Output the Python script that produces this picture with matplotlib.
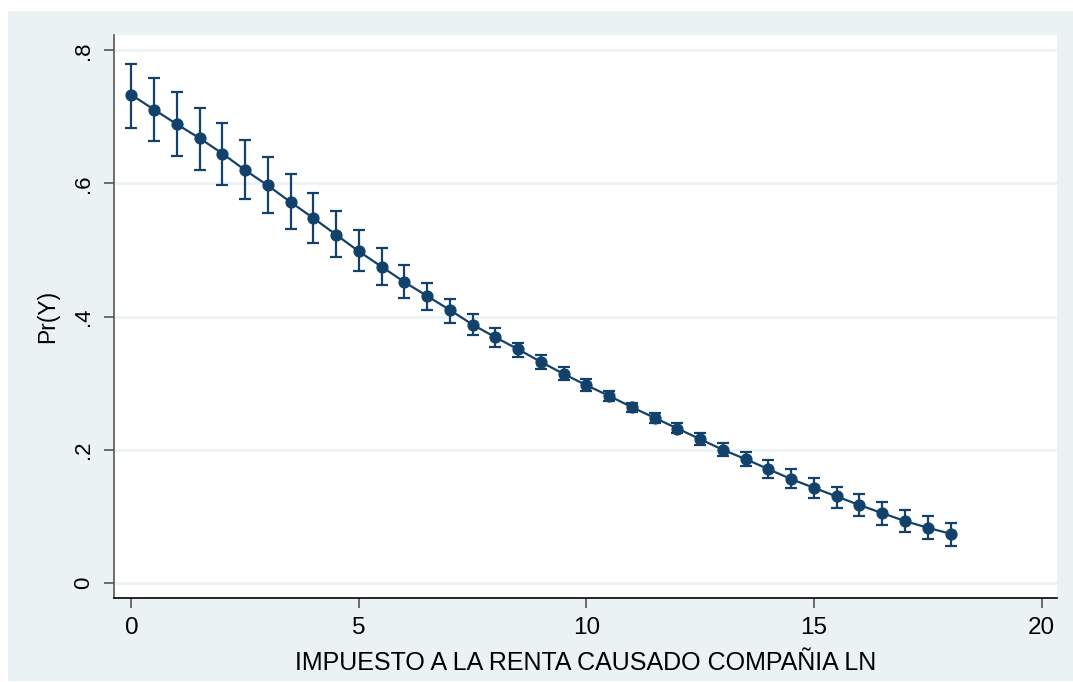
import matplotlib
matplotlib.use("Agg")
import matplotlib.pyplot as plt

# Predicted probabilities with 95% confidence intervals
x_vals = [0, 0.5, 1, 1.5, 2, 2.5, 3, 3.5, 4, 4.5, 5, 5.5, 6, 6.5, 7, 7.5, 8, 8.5, 9,
          9.5, 10, 10.5, 11, 11.5, 12, 12.5, 13, 13.5, 14, 14.5, 15, 15.5, 16, 16.5,
          17, 17.5, 18]
pr_y = [0.733, 0.711, 0.689, 0.668, 0.645, 0.620, 0.597, 0.572, 0.548, 0.523, 0.498,
        0.475, 0.452, 0.431, 0.410, 0.388, 0.369, 0.351, 0.332, 0.314, 0.297, 0.281,
        0.264, 0.248, 0.232, 0.216, 0.200, 0.186, 0.171, 0.156, 0.143, 0.130, 0.117,
        0.105, 0.093, 0.083, 0.074]
ci_upper = [0.780, 0.758, 0.737, 0.714, 0.691, 0.666, 0.640, 0.614, 0.586, 0.558, 0.530,
            0.503, 0.477, 0.451, 0.427, 0.404, 0.383, 0.361, 0.342, 0.324, 0.306, 0.288,
            0.271, 0.255, 0.240, 0.225, 0.211, 0.197, 0.184, 0.171, 0.158, 0.144, 0.133,
            0.121, 0.110, 0.100, 0.090]
ci_lower = [0.683, 0.664, 0.642, 0.621, 0.597, 0.576, 0.555, 0.532, 0.510, 0.489, 0.469,
            0.447, 0.428, 0.410, 0.391, 0.373, 0.355, 0.339, 0.322, 0.305, 0.289, 0.274,
            0.257, 0.241, 0.225, 0.208, 0.191, 0.175, 0.158, 0.143, 0.128, 0.113, 0.101,
            0.087, 0.076, 0.066, 0.056]

y_ticks = [0, 0.2, 0.4, 0.6, 0.8]
y_ticklabels = ["0", ".2", ".4", ".6", ".8"]
x_ticks = [0, 5, 10, 15, 20]

navy = "#12426b"
panel_bg = "#eaf2f3"

plt.rcParams["font.family"] = ["Liberation Sans", "DejaVu Sans"]

W, H = 1073, 682
fig = plt.figure(figsize=(W / 100, H / 100), dpi=100, facecolor="white")

# light outer graph region
bg = fig.add_axes([8 / W, 1 / H, 1 - 8 / W, (H - 12) / H], zorder=-5)
bg.set_facecolor(panel_bg)
bg.set_xticks([])
bg.set_yticks([])
for s in bg.spines.values():
    s.set_visible(False)

ax = fig.add_axes([113.6 / W, (H - 598) / H, (1057 - 113.6) / W, (598 - 35) / H])
ax.set_facecolor("white")

for t in y_ticks:
    ax.axhline(t, color=panel_bg, lw=1.8, zorder=1)

yerr = [[p - lo for p, lo in zip(pr_y, ci_lower)],
        [hi - p for p, hi in zip(pr_y, ci_upper)]]
ax.errorbar(x_vals, pr_y, yerr=yerr, fmt="none", ecolor=navy, elinewidth=1.6,
            capsize=4.2, capthick=1.6, zorder=3)
ax.plot(x_vals, pr_y, color=navy, lw=1.6, marker="o", markersize=7.8,
        markerfacecolor=navy, markeredgecolor=navy, zorder=4)

ax.set_xlim(-0.39, 20.34)
ax.set_ylim(-0.0225, 0.823)

for side in ("top", "right"):
    ax.spines[side].set_visible(False)
ax.spines["left"].set_color("#555555")
ax.spines["left"].set_linewidth(1.2)
ax.spines["bottom"].set_color("black")
ax.spines["bottom"].set_linewidth(1.2)

ax.set_xticks(x_ticks)
ax.set_xticklabels([str(v) for v in x_ticks])
ax.set_yticks(y_ticks)
ax.set_yticklabels(y_ticklabels, rotation=90, va="center")
ax.tick_params(axis="both", direction="out", length=7, width=1.2, color="#555555",
               labelcolor="black")
ax.tick_params(axis="x", labelsize=17.5, pad=6.5)
ax.tick_params(axis="y", labelsize=16, pad=7)

ax.set_xlabel("IMPUESTO A LA RENTA CAUSADO COMPAÑIA LN", fontsize=18, labelpad=8.5)
ax.set_ylabel("Pr(Y)", fontsize=16.5, labelpad=10)

fig.savefig("out.png", dpi=100, facecolor=fig.get_facecolor())
